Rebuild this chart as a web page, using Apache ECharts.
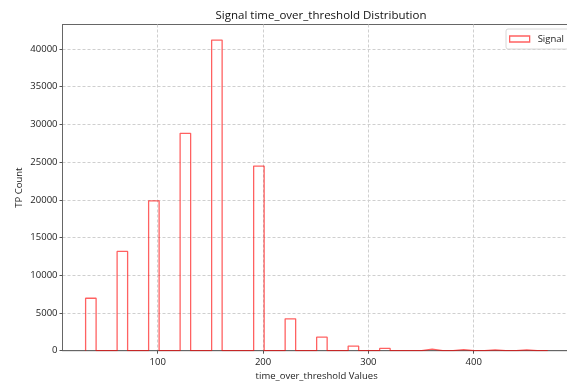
<!DOCTYPE html>
<html>
<head>
<meta charset="utf-8">
<script src="https://cdn.jsdelivr.net/npm/echarts@6/dist/echarts.min.js"></script>
<style>
  html, body { margin: 0; padding: 0; background: #fff; }
  #chart { width: 567px; height: 383px; }
</style>
</head>
<body>
<div id="chart"></div>
<script>
// Histogram of time_over_threshold, 44 equal-width bins
const binStart = 31.5;
const binEnd = 470.3;
const binCounts = [
  6950, 0, 0, 13160, 0, 0, 19870, 0, 0, 28810, 0, 0, 41180, 0, 0, 0,
  24470, 0, 0, 4220, 0, 0, 1790, 0, 0, 610, 0, 0, 300, 0, 0, 0,
  220, 0, 0, 140, 0, 0, 120, 0, 0, 100, 0, 0
];
const xTicks = [100, 200, 300, 400];
const yTicks = [0, 5000, 10000, 15000, 20000, 25000, 30000, 35000, 40000];
const seriesName = 'Signal';

const nBins = binCounts.length;
const binWidth = (binEnd - binStart) / nBins;
const edges = [];
for (let i = 0; i <= nBins; i++) edges.push(binStart + i * binWidth);

// step outline: up/across/down for every bin, starting and ending on the baseline
const outline = [[edges[0], 0]];
for (let i = 0; i < nBins; i++) {
  outline.push([edges[i], binCounts[i]]);
  outline.push([edges[i + 1], binCounts[i]]);
}
outline.push([edges[nBins], 0]);

const span = edges[nBins] - edges[0];
const xMin = edges[0] - 0.05 * span;
const xMax = edges[nBins] + 0.05 * span;
const yMax = Math.max(...binCounts) * 1.05;

const font = 'Open Sans';
const red = 'rgba(255,0,0,0.62)';
const plain = v => String(Math.round(v));

const chart = echarts.init(document.getElementById('chart'), null, { renderer: 'canvas' });
chart.setOption({
  animation: false,
  backgroundColor: '#fff',
  title: {
    text: 'Signal time_over_threshold Distribution',
    left: 316, top: 5, textAlign: 'center',
    textStyle: { fontFamily: font, fontSize: 11.5, fontWeight: 'normal', color: '#111' }
  },
  legend: {
    left: 506, top: 29,
    padding: [5, 10, 5, 3],
    backgroundColor: '#fff',
    borderColor: '#d8d8d8', borderWidth: 1, borderRadius: 2,
    itemWidth: 20, itemHeight: 6,
    textStyle: { fontFamily: font, fontSize: 9.5, color: '#222', padding: [0, 0, 0, 3] },
    data: [{
      name: seriesName, icon: 'rect',
      itemStyle: { color: 'rgba(0,0,0,0)', borderColor: red, borderWidth: 1.3 }
    }]
  },
  grid: {
    left: 62.5, right: -3.8, top: 24.5, bottom: 32.3,
    outerBoundsMode: 'none', containLabel: false,
    show: true, borderColor: '#666', borderWidth: 1, backgroundColor: 'transparent'
  },
  xAxis: {
    type: 'value', min: xMin, max: xMax, interval: 100,
    name: 'time_over_threshold Values', nameLocation: 'middle', nameGap: 21,
    nameMoveOverlap: false,
    nameTextStyle: { fontFamily: font, fontSize: 9.5, color: '#222' },
    axisLine: { show: true, onZero: false, lineStyle: { color: '#666', width: 1 } },
    axisTick: { show: true, length: 3, lineStyle: { color: '#555' }, customValues: xTicks },
    axisLabel: { fontFamily: font, fontSize: 9.5, color: '#222', margin: 6.5, customValues: xTicks, formatter: plain },
    splitLine: { show: true, lineStyle: { color: '#cfcfcf', type: [3, 2], width: 1 } }
  },
  yAxis: {
    type: 'value', min: 0, max: yMax, interval: 5000,
    name: 'TP Count', nameLocation: 'middle', nameGap: 38,
    nameMoveOverlap: false,
    nameTextStyle: { fontFamily: font, fontSize: 9.5, color: '#222' },
    axisLine: { show: true, lineStyle: { color: '#666', width: 1 } },
    axisTick: { show: true, length: 3, lineStyle: { color: '#555' }, customValues: yTicks },
    axisLabel: { fontFamily: font, fontSize: 9.5, color: '#222', margin: 5, customValues: yTicks, formatter: plain },
    splitLine: { show: true, lineStyle: { color: '#cfcfcf', type: [3, 2], width: 1 } }
  },
  series: [{
    name: seriesName,
    type: 'line',
    data: outline,
    showSymbol: false,
    symbol: 'none',
    lineStyle: { color: red, width: 1.3 },
    itemStyle: { color: red },
    clip: true,
    z: 3
  }]
});
</script>
</body>
</html>
